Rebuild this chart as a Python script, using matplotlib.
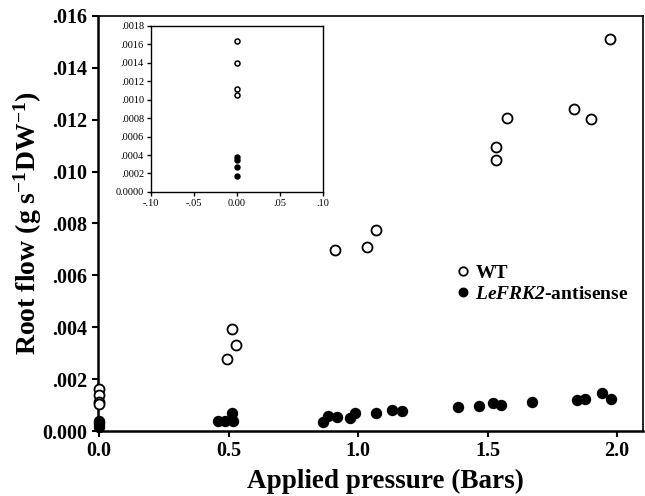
#!/usr/bin/env python3
"""
Root flow vs applied pressure, WT vs LeFRK2-antisense (with inset at 0 bar)
"""

import matplotlib
matplotlib.use('Agg')
import matplotlib.pyplot as plt
from matplotlib.ticker import FuncFormatter

plt.rcParams['font.family'] = ['Liberation Serif', 'DejaVu Serif']
plt.rcParams['mathtext.fontset'] = 'custom'
plt.rcParams['mathtext.rm'] = 'Liberation Serif:bold'
plt.rcParams['mathtext.it'] = 'Liberation Serif:italic:bold'
plt.rcParams['mathtext.bf'] = 'Liberation Serif:bold'
# sf slot used for bold-italic gene name (digits stay italic there)
plt.rcParams['mathtext.sf'] = 'Liberation Serif:italic:bold'

# WT (open circles)
wt_x = [0.0, 0.0, 0.0, 0.0, 0.493, 0.515, 0.528, 0.911, 1.033, 1.068,
        1.533, 1.533, 1.575, 1.835, 1.898, 1.973]
wt_y = [0.00163, 0.00140, 0.00112, 0.00105, 0.00277, 0.00392, 0.00330, 0.00697,
        0.00710, 0.00773, 0.01093, 0.01045, 0.01206, 0.01240, 0.01202, 0.01509]

# LeFRK2-antisense (filled circles)
as_x = [0.0, 0.0, 0.0, 0.0, 0.461, 0.486, 0.512, 0.518, 0.866, 0.885,
        0.918, 0.969, 0.988, 1.069, 1.130, 1.169, 1.385, 1.468, 1.520,
        1.552, 1.673, 1.844, 1.874, 1.941, 1.977]
as_y = [0.00038, 0.00035, 0.00027, 0.00017, 0.00039, 0.00039, 0.00068, 0.00039,
        0.00036, 0.00058, 0.00053, 0.00049, 0.00071, 0.00068, 0.00081, 0.00077,
        0.00091, 0.00096, 0.00107, 0.00100, 0.00113, 0.00119, 0.00122, 0.00145,
        0.00122]

# inset: values at 0 bar only
inset_wt_y = [0.00163, 0.00140, 0.00112, 0.00105]
inset_as_y = [0.00038, 0.00035, 0.00027, 0.00017]


def dotfmt(decimals):
    def f(v, pos):
        s = f'{v:.{decimals}f}'
        if abs(v) < 1e-12:
            return s
        return s.replace('0.', '.', 1)
    return FuncFormatter(f)


fig = plt.figure(figsize=(6.45, 4.96), dpi=100)
ax = fig.add_axes([0.152, 0.131, 0.845, 0.837])

ax.plot(wt_x, wt_y, 'o', ms=7.2, mfc='white', mec='black', mew=1.3,
        clip_on=False, zorder=3, label='WT')
ax.plot(as_x, as_y, 'o', ms=7.2, mfc='black', mec='black',
        clip_on=False, zorder=3, label=r'$\mathsf{LeFRK2}$-antisense')

ax.set_xlim(-0.004, 2.1)
ax.set_ylim(0, 0.016)
ax.set_xticks([0.0, 0.5, 1.0, 1.5, 2.0])
ax.set_yticks([0.0, 0.002, 0.004, 0.006, 0.008, 0.010, 0.012, 0.014, 0.016])
ax.xaxis.set_major_formatter(FuncFormatter(lambda v, p: f'{v:.1f}'))
ax.yaxis.set_major_formatter(dotfmt(3))
for lab in ax.get_xticklabels() + ax.get_yticklabels():
    lab.set_fontweight('bold')
ax.tick_params(labelsize=14.5, direction='out', length=4, width=1.5)
for side in ['left', 'bottom']:
    ax.spines[side].set_linewidth(1.8)
for side in ['top', 'right']:
    ax.spines[side].set_linewidth(1.2)

ax.set_xlabel('Applied pressure (Bars)', fontsize=19.5, fontweight='bold')
ax.set_ylabel(r'Root flow (g s$^{-1}$DW$^{-1}$)', fontsize=20, fontweight='bold')
ax.xaxis.set_label_coords(0.528, -0.092)
ax.yaxis.set_label_coords(-0.1, 0.5)

leg = ax.legend(loc='upper left', bbox_to_anchor=(0.637, 0.426), frameon=False,
                fontsize=14, handlelength=0.8, handletextpad=0.25,
                borderpad=0, labelspacing=0.2, markerscale=0.85)
for t in leg.get_texts():
    t.set_fontweight('bold')

# inset
ins = fig.add_axes([0.234, 0.613, 0.267, 0.335])
ins.plot([0.0] * len(inset_wt_y), inset_wt_y, 'o', ms=3.6, mfc='white',
         mec='black', mew=1.1, zorder=3)
ins.plot([0.0] * len(inset_as_y), inset_as_y, 'o', ms=3.6, mfc='black',
         mec='black', zorder=3)
ins.set_xlim(-0.1, 0.1)
ins.set_ylim(0, 0.0018)
ins.set_xticks([-0.10, -0.05, 0.0, 0.05, 0.10])
ins.set_yticks([i * 0.0002 for i in range(10)])
ins.xaxis.set_major_formatter(FuncFormatter(
    lambda v, p: '0.00' if abs(v) < 1e-12 else f'{v:.2f}'.replace('0.', '.', 1)))
ins.yaxis.set_major_formatter(dotfmt(4))
ins.tick_params(labelsize=7.5, direction='out', length=3, width=1, pad=2)
for s in ins.spines.values():
    s.set_linewidth(1.0)

plt.savefig('out.png', dpi=100)
print("✅ out.png")
